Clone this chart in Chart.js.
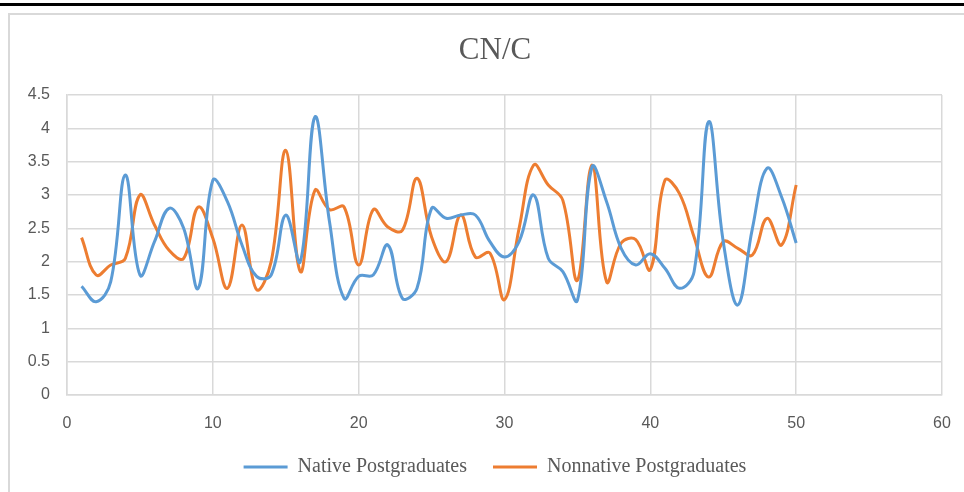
<!DOCTYPE html>
<html>
<head>
<meta charset="utf-8">
<script src="https://cdn.jsdelivr.net/npm/chart.js@4.4.1/dist/chart.umd.min.js"></script>
<style>
  html, body {
    margin: 0;
    padding: 0;
    width: 964px;
    height: 492px;
    overflow: hidden;
    background: #fff;
  }
  .topRule {
    position: absolute;
    left: 0;
    top: 3px;
    width: 964px;
    height: 3px;
    background: #000;
  }
  .frame {
    position: absolute;
    left: 8px;
    top: 13px;
    width: 990px;
    height: 500px;
    border: 2px solid #d9d9d9;
    box-sizing: border-box;
  }
  .chartBox {
    position: absolute;
    left: 0;
    top: 0;
    width: 980px;
    height: 492px;
  }
</style>
</head>
<body>
<div class="topRule"></div>
<div class="frame"></div>
<div class="chartBox">
  <canvas id="chart" width="980" height="492"></canvas>
</div>
<script>
const xValues = [1, 2, 3, 4, 5, 6, 7, 8, 9, 10,
  11, 12, 13, 14, 15, 16, 17, 18, 19, 20,
  21, 22, 23, 24, 25, 26, 27, 28, 29, 30,
  31, 32, 33, 34, 35, 36, 37, 38, 39, 40,
  41, 42, 43, 44, 45, 46, 47, 48, 49, 50];

const nativeValues = [1.63, 1.4, 1.7, 3.3, 1.8, 2.3, 2.8, 2.5, 1.6, 3.22,
  2.9, 2.25, 1.78, 1.8, 2.7, 2.0, 4.17, 2.6, 1.45, 1.78,
  1.8, 2.25, 1.45, 1.6, 2.8, 2.65, 2.7, 2.7, 2.3, 2.07,
  2.3, 3.0, 2.05, 1.85, 1.42, 3.42, 2.9, 2.2, 1.95, 2.12,
  1.9, 1.6, 1.85, 4.1, 2.3, 1.35, 2.5, 3.4, 2.97, 2.28];

const nonnativeValues = [2.36, 1.8, 1.95, 2.05, 3.0, 2.55, 2.17, 2.05, 2.82, 2.35,
  1.6, 2.55, 1.58, 2.0, 3.67, 1.85, 3.07, 2.78, 2.82, 1.95,
  2.78, 2.52, 2.47, 3.25, 2.37, 2.0, 2.7, 2.07, 2.13, 1.43,
  2.5, 3.45, 3.15, 2.92, 1.72, 3.45, 1.7, 2.28, 2.33, 1.88,
  3.22, 3.02, 2.37, 1.77, 2.3, 2.2, 2.1, 2.65, 2.25, 3.15];

const seriesNames = ['Native Postgraduates', 'Nonnative Postgraduates'];
const titleText = 'CN/C';

const toPoints = vals => vals.map((v, i) => ({ x: xValues[i], y: v }));

const gridColor = '#d9d9d9';
const textColor = '#595959';

new Chart(document.getElementById('chart').getContext('2d'), {
  type: 'line',
  data: {
    datasets: [
      {
        label: seriesNames[0],
        data: toPoints(nativeValues),
        borderColor: '#5b9bd5',
        backgroundColor: '#5b9bd5',
        borderWidth: 3,
        pointRadius: 0,
        fill: false,
        tension: 0.4
      },
      {
        label: seriesNames[1],
        data: toPoints(nonnativeValues),
        borderColor: '#ed7d31',
        backgroundColor: '#ed7d31',
        borderWidth: 3,
        pointRadius: 0,
        fill: false,
        tension: 0.4
      }
    ]
  },
  options: {
    responsive: false,
    animation: false,
    layout: {
      padding: { left: 25, right: 15, top: 0, bottom: 5 }
    },
    scales: {
      x: {
        type: 'linear',
        min: 0,
        max: 60,
        ticks: {
          stepSize: 10,
          color: textColor,
          font: { family: 'Liberation Sans', size: 16 },
          padding: 19,
          maxRotation: 0
        },
        grid: { color: gridColor, lineWidth: 1.5, drawTicks: false },
        border: { color: gridColor, width: 1.5 },
        afterFit: scale => { scale.height = 36; }
      },
      y: {
        type: 'linear',
        min: 0,
        max: 4.5,
        ticks: {
          stepSize: 0.5,
          color: textColor,
          font: { family: 'Liberation Sans', size: 16 },
          padding: 17,
          callback: value => String(value)
        },
        grid: { color: gridColor, lineWidth: 1.5, drawTicks: false },
        border: { color: gridColor, width: 1.5 },
        afterFit: scale => { scale.width = 42; }
      },
      // empty right-hand spacer so the title and legend sit where they do in the original
      spacer: {
        type: 'linear',
        position: 'right',
        grid: { display: false },
        ticks: { display: false },
        border: { display: false },
        afterFit: scale => { scale.width = 23; }
      }
    },
    plugins: {
      title: {
        display: true,
        text: titleText,
        color: textColor,
        font: { family: 'Liberation Serif', size: 31, weight: 'normal' },
        padding: { top: 32, bottom: 25.8 }
      },
      legend: {
        display: true,
        position: 'bottom',
        labels: {
          usePointStyle: true,
          pointStyle: 'line',
          pointStyleWidth: 44,
          padding: 26,
          color: textColor,
          font: { family: 'Liberation Serif', size: 20 }
        }
      },
      tooltip: { enabled: false }
    }
  }
});
</script>
</body>
</html>
